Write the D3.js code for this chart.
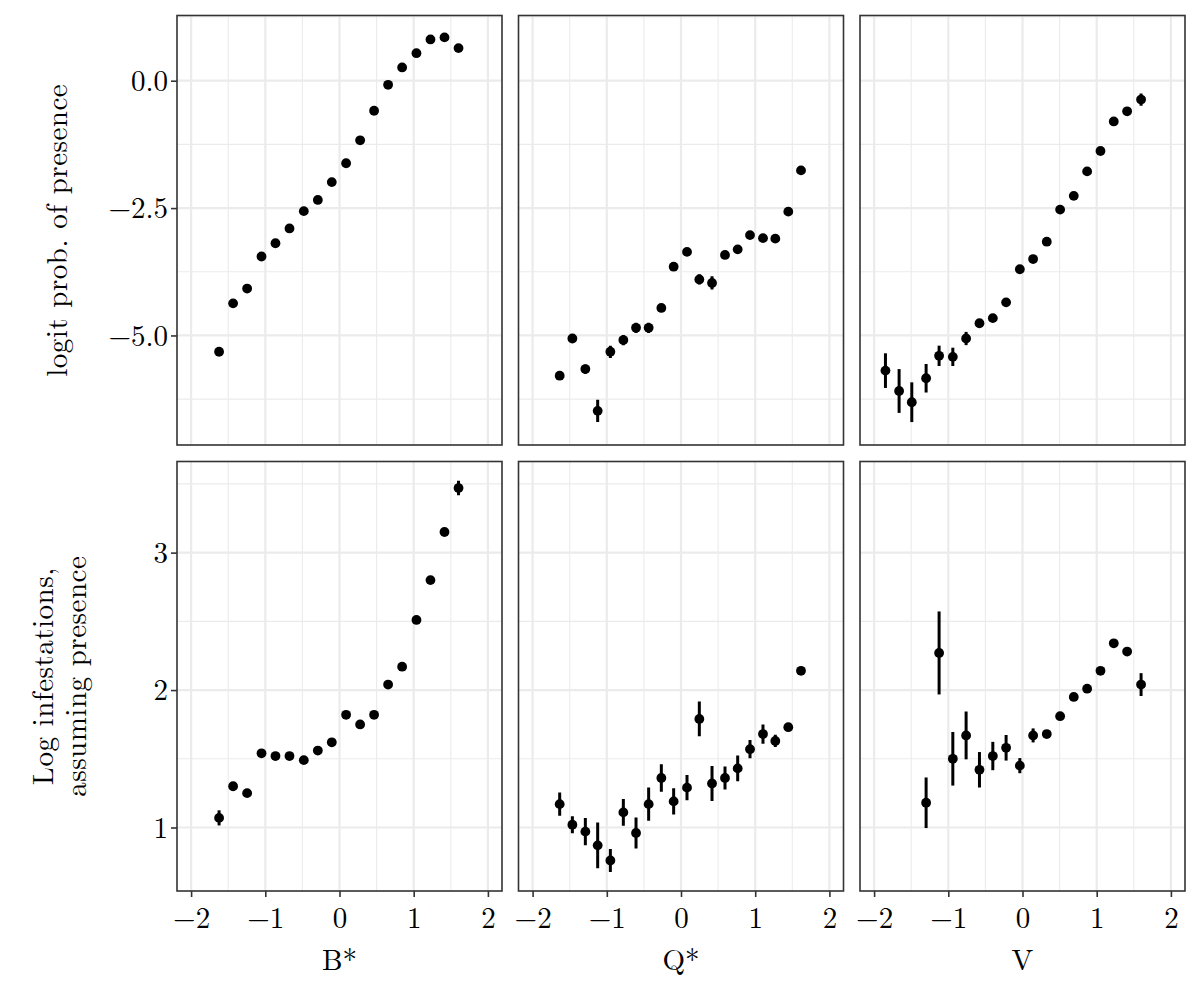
<!DOCTYPE html>
<html>
<head>
<meta charset="utf-8">
<script src="https://cdn.jsdelivr.net/npm/d3@7"></script>
<style>
  body { margin: 0; background: #fff; }
  svg text { font-family: "Latin Modern Roman", "CMU Serif", "Liberation Serif", serif; fill: #000; }
</style>
</head>
<body>
<script>
// bin centres (standardised covariate) for each column
var xB = [-1.623, -1.434, -1.245, -1.051, -0.863, -0.674, -0.481, -0.292, -0.104, 0.089,
          0.278, 0.466, 0.655, 0.844, 1.037, 1.226, 1.415, 1.604];
var xQ = [-1.635, -1.464, -1.289, -1.123, -0.952, -0.777, -0.606, -0.436, -0.265, -0.099,
          0.081, 0.247, 0.418, 0.593, 0.764, 0.930, 1.105, 1.271, 1.446, 1.617];
var xV = [-1.847, -1.663, -1.492, -1.299, -1.124, -0.939, -0.760, -0.580, -0.400, -0.221,
          -0.036, 0.143, 0.327, 0.507, 0.691, 0.871, 1.051, 1.230, 1.410, 1.598];

// top row: logit prob. of presence (+/- error)
var logitB = [-5.32, -4.37, -4.08, -3.45, -3.19, -2.90, -2.56, -2.34, -1.99, -1.62,
              -1.17, -0.59, -0.08, 0.26, 0.54, 0.81, 0.85, 0.64];
var logitSeB = [0.04, 0.03, 0.03, 0.02, 0.02, 0.02, 0.02, 0.02, 0.02, 0.02,
                0.02, 0.02, 0.02, 0.02, 0.02, 0.02, 0.03, 0.04];
var logitQ = [-5.79, -5.06, -5.66, -6.48, -5.32, -5.09, -4.85, -4.85, -4.46, -3.65,
              -3.36, -3.90, -3.97, -3.42, -3.31, -3.03, -3.09, -3.10, -2.57, -1.76];
var logitSeQ = [0.04, 0.04, 0.09, 0.22, 0.12, 0.10, 0.10, 0.10, 0.05, 0.07,
                0.04, 0.10, 0.13, 0.04, 0.04, 0.03, 0.03, 0.03, 0.03, 0.03];
var logitV = [-5.69, -6.09, -6.31, -5.84, -5.40, -5.42, -5.06, -4.76, -4.66, -4.35,
              -3.70, -3.50, -3.16, -2.53, -2.26, -1.78, -1.38, -0.80, -0.60, -0.37];
var logitSeV = [0.34, 0.43, 0.39, 0.28, 0.20, 0.18, 0.13, 0.05, 0.04, 0.04,
                0.03, 0.03, 0.03, 0.03, 0.03, 0.03, 0.03, 0.03, 0.03, 0.12];

// bottom row: log infestations, assuming presence (+/- error)
var logInfB = [1.07, 1.30, 1.25, 1.54, 1.52, 1.52, 1.49, 1.56, 1.62, 1.82,
               1.75, 1.82, 2.04, 2.17, 2.51, 2.80, 3.15, 3.47];
var logInfSeB = [0.055, 0.03, 0.02, 0.015, 0.015, 0.015, 0.015, 0.015, 0.015, 0.015,
                 0.015, 0.015, 0.015, 0.015, 0.015, 0.02, 0.02, 0.053];
var logInfQ = [1.17, 1.02, 0.97, 0.87, 0.76, 1.11, 0.96, 1.17, 1.36, 1.19,
               1.29, 1.79, 1.32, 1.36, 1.43, 1.57, 1.68, 1.63, 1.73, 2.14];
var logInfSeQ = [0.085, 0.061, 0.10, 0.166, 0.083, 0.098, 0.113, 0.121, 0.10, 0.095,
                 0.092, 0.126, 0.127, 0.083, 0.093, 0.067, 0.07, 0.044, 0.02, 0.02];
var logInfV = [null, null, null, 1.18, 2.27, 1.50, 1.67, 1.42, 1.52, 1.58,
               1.45, 1.67, 1.68, 1.81, 1.95, 2.01, 2.14, 2.34, 2.28, 2.04];
var logInfSeV = [null, null, null, 0.184, 0.302, 0.195, 0.174, 0.129, 0.103, 0.093,
                 0.055, 0.051, 0.02, 0.02, 0.02, 0.02, 0.02, 0.02, 0.02, 0.083];

var colTitles = ["B*", "Q*", "V"];
var xTicks = [-2, -1, 0, 1, 2];
var xMinor = [-1.5, -0.5, 0.5, 1.5];
var yTicksTop = [-5, -2.5, 0];
var yMinorTop = [-6.25, -3.75, -1.25, 1.25];
var yTicksBottom = [1, 2, 3];
var yMinorBottom = [1.5, 2.5, 3.5];

var W = 1200, H = 1000;
var LEFT = 177, TOP = 15.5;
var PW = 325, PH = 429.5, GAP = 16.5;
var FONT = 29;

var svg = d3.select("body").append("svg")
  .attr("width", W).attr("height", H);

var x = d3.scaleLinear().domain([-2.19, 2.19]).range([0, PW]);
var yTop = d3.scaleLinear().domain([-7.15, 1.28]).range([PH, 0]);
var yBottom = d3.scaleLinear().domain([0.538, 3.663]).range([PH, 0]);

var rows = [
  { y: yTop, ticks: yTicksTop, minor: yMinorTop, fmt: d3.format(".1f"),
    xs: [xB, xQ, xV], ys: [logitB, logitQ, logitV], se: [logitSeB, logitSeQ, logitSeV] },
  { y: yBottom, ticks: yTicksBottom, minor: yMinorBottom, fmt: d3.format("d"),
    xs: [xB, xQ, xV], ys: [logInfB, logInfQ, logInfV], se: [logInfSeB, logInfSeQ, logInfSeV] }
];

rows.forEach(function(row, r) {
  for (var c = 0; c < 3; c++) {
    var px = LEFT + c * (PW + GAP), py = TOP + r * (PH + GAP);
    var g = svg.append("g").attr("transform", "translate(" + px + "," + py + ")");
    var clipId = "clip" + r + c;
    g.append("clipPath").attr("id", clipId)
      .append("rect").attr("width", PW).attr("height", PH);
    var inner = g.append("g").attr("clip-path", "url(#" + clipId + ")");

    // grid
    inner.selectAll(".vminor").data(xMinor).enter().append("line")
      .attr("x1", x).attr("x2", x).attr("y1", 0).attr("y2", PH)
      .attr("stroke", "#ebebeb").attr("stroke-width", 1.1);
    inner.selectAll(".hminor").data(row.minor).enter().append("line")
      .attr("y1", row.y).attr("y2", row.y).attr("x1", 0).attr("x2", PW)
      .attr("stroke", "#ebebeb").attr("stroke-width", 1.1);
    inner.selectAll(".vmajor").data(xTicks).enter().append("line")
      .attr("x1", x).attr("x2", x).attr("y1", 0).attr("y2", PH)
      .attr("stroke", "#ebebeb").attr("stroke-width", 2.2);
    inner.selectAll(".hmajor").data(row.ticks).enter().append("line")
      .attr("y1", row.y).attr("y2", row.y).attr("x1", 0).attr("x2", PW)
      .attr("stroke", "#ebebeb").attr("stroke-width", 2.2);

    // point ranges
    var xs = row.xs[c], ys = row.ys[c], se = row.se[c];
    var pts = xs.map(function(v, i) { return { x: v, y: ys[i], se: se[i] }; })
      .filter(function(d) { return d.y != null; });
    var yS = row.y;
    inner.selectAll(".err").data(pts).enter().append("line")
      .attr("x1", function(d) { return x(d.x); })
      .attr("x2", function(d) { return x(d.x); })
      .attr("y1", function(d) { return yS(d.y - d.se); })
      .attr("y2", function(d) { return yS(d.y + d.se); })
      .attr("stroke", "#000").attr("stroke-width", 3);
    inner.selectAll(".pt").data(pts).enter().append("circle")
      .attr("cx", function(d) { return x(d.x); })
      .attr("cy", function(d) { return yS(d.y); })
      .attr("r", 4.9).attr("fill", "#000");

    // border
    g.append("rect").attr("width", PW).attr("height", PH)
      .attr("fill", "none").attr("stroke", "#333").attr("stroke-width", 1.6);

    // axes
    if (c === 0) {
      var ay = g.append("g").call(d3.axisLeft(row.y).tickValues(row.ticks)
        .tickFormat(row.fmt).tickSize(6).tickPadding(3));
      ay.select(".domain").remove();
      ay.selectAll(".tick line").attr("stroke", "#333").attr("stroke-width", 1.6);
      ay.selectAll(".tick text").attr("font-size", FONT).attr("font-family", null)
        .attr("dy", "0.33em");
    }
    if (r === 1) {
      var ax = g.append("g").attr("transform", "translate(0," + PH + ")")
        .call(d3.axisBottom(x).tickValues(xTicks).tickFormat(d3.format("d"))
          .tickSize(6).tickPadding(6));
      ax.select(".domain").remove();
      ax.selectAll(".tick line").attr("stroke", "#333").attr("stroke-width", 1.6);
      ax.selectAll(".tick text").attr("font-size", FONT).attr("font-family", null)
        .attr("dy", "0.85em");
      svg.append("text").attr("x", px + PW / 2).attr("y", 970)
        .attr("text-anchor", "middle").attr("font-size", FONT)
        .text(colTitles[c]);
    }
  }
});

// y axis titles
var mid1 = TOP + PH / 2, mid2 = TOP + PH + GAP + PH / 2;
svg.append("text").attr("transform", "translate(67," + mid1 + ") rotate(-90)")
  .attr("text-anchor", "middle").attr("font-size", FONT).attr("letter-spacing", 0.5)
  .text("logit prob. of presence");
svg.append("text").attr("transform", "translate(53," + mid2 + ") rotate(-90)")
  .attr("text-anchor", "middle").attr("font-size", FONT).attr("letter-spacing", 0.5)
  .text("Log infestations,");
svg.append("text").attr("transform", "translate(86," + mid2 + ") rotate(-90)")
  .attr("text-anchor", "middle").attr("font-size", FONT).attr("letter-spacing", 0.5)
  .text("assuming presence");
</script>
</body>
</html>
